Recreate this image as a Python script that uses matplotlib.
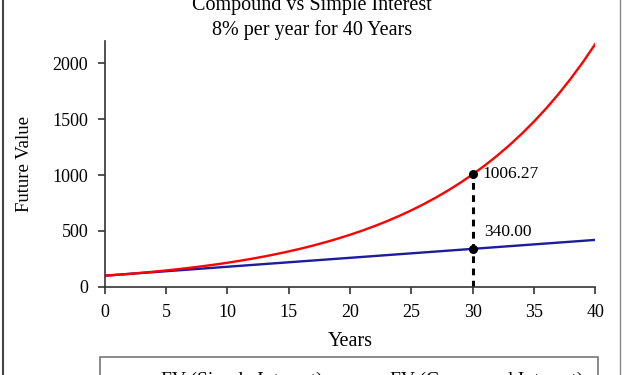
import matplotlib.pyplot as plt
from matplotlib.lines import Line2D

plt.rcParams['font.family'] = ['Liberation Serif', 'DejaVu Serif']

years = list(range(0, 41))
fv_simple = [100, 108, 116, 124, 132, 140, 148, 156, 164, 172, 180,
             188, 196, 204, 212, 220, 228, 236, 244, 252, 260,
             268, 276, 284, 292, 300, 308, 316, 324, 332, 340,
             348, 356, 364, 372, 380, 388, 396, 404, 412, 420]
fv_compound = [100.00, 108.00, 116.64, 125.97, 136.05, 146.93, 158.69, 171.38,
               185.09, 199.90, 215.89, 233.16, 251.82, 271.96, 293.72, 317.22,
               342.59, 370.00, 399.60, 431.57, 466.10, 503.38, 543.65, 587.15,
               634.12, 684.85, 739.64, 798.81, 862.71, 931.73, 1006.27, 1086.77,
               1173.71, 1267.60, 1369.01, 1478.53, 1596.81, 1724.56, 1862.52,
               2011.52, 2172.45]
mark_year = 30
mark_simple = 340.00
mark_compound = 1006.27

fig = plt.figure(figsize=(6.24, 3.75), dpi=100)
ax = fig.add_axes([0.168, 0.235, 0.786, 0.656])

ax.plot(years, fv_simple, color='#1c1c9c', lw=1.7, label='FV (Simple Interest)')
ax.plot(years, fv_compound, color='#ff0000', lw=1.7, label='FV (Compound Interest)')

# marker at year 30
ax.plot([mark_year, mark_year], [0, mark_compound], color='black', lw=2.2,
        ls=(0, (2.2, 1.8)))
ax.plot([mark_year, mark_year], [mark_simple, mark_compound], 'o', color='black',
        ms=5.5)
ax.annotate(f'{mark_compound:.2f}', (mark_year, mark_compound), xytext=(7, 0),
            textcoords='offset points', va='center', fontsize=12.5)
ax.annotate(f'{mark_simple:.2f}', (mark_year, mark_simple), xytext=(8, 12),
            textcoords='offset points', va='center', fontsize=12.5)

ax.set_xlim(0, 40)
ax.set_ylim(0, 2200)
ax.set_xticks(range(0, 41, 5))
ax.set_yticks(range(0, 2001, 500))
for s in ['top', 'right']:
    ax.spines[s].set_visible(False)
for s in ['left', 'bottom']:
    ax.spines[s].set_color('#333333')
    ax.spines[s].set_linewidth(1.2)
ax.tick_params(length=5, width=1.2, color='#333333', labelsize=13, pad=7)
ax.set_xlabel('Years', fontsize=14.5, labelpad=8)
ax.set_ylabel('Future Value', fontsize=13.5, labelpad=14)

fig.text(0.5, 0.985, 'Compound vs Simple Interest', ha='center',
         va='center', fontsize=14.5)
fig.text(0.5, 0.92, '8% per year for 40 Years', ha='center', va='center',
         fontsize=14.5)

leg = fig.legend(loc='upper left', bbox_to_anchor=(0.160, 0.048),
                 ncol=2, fontsize=14, fancybox=False,
                 edgecolor='#555555', borderaxespad=0, handlelength=1.6,
                 handletextpad=0.8, columnspacing=1.05, borderpad=0.75)
leg.get_frame().set_linewidth(1.2)

# outer chart frame
fig.add_artist(Line2D([0.005, 0.005], [0, 1], color='#444444', lw=1.5,
                      transform=fig.transFigure))
fig.add_artist(Line2D([0.994, 0.994], [0, 1], color='#888888', lw=1.0,
                      transform=fig.transFigure))

fig.savefig('out.png', dpi=100)
